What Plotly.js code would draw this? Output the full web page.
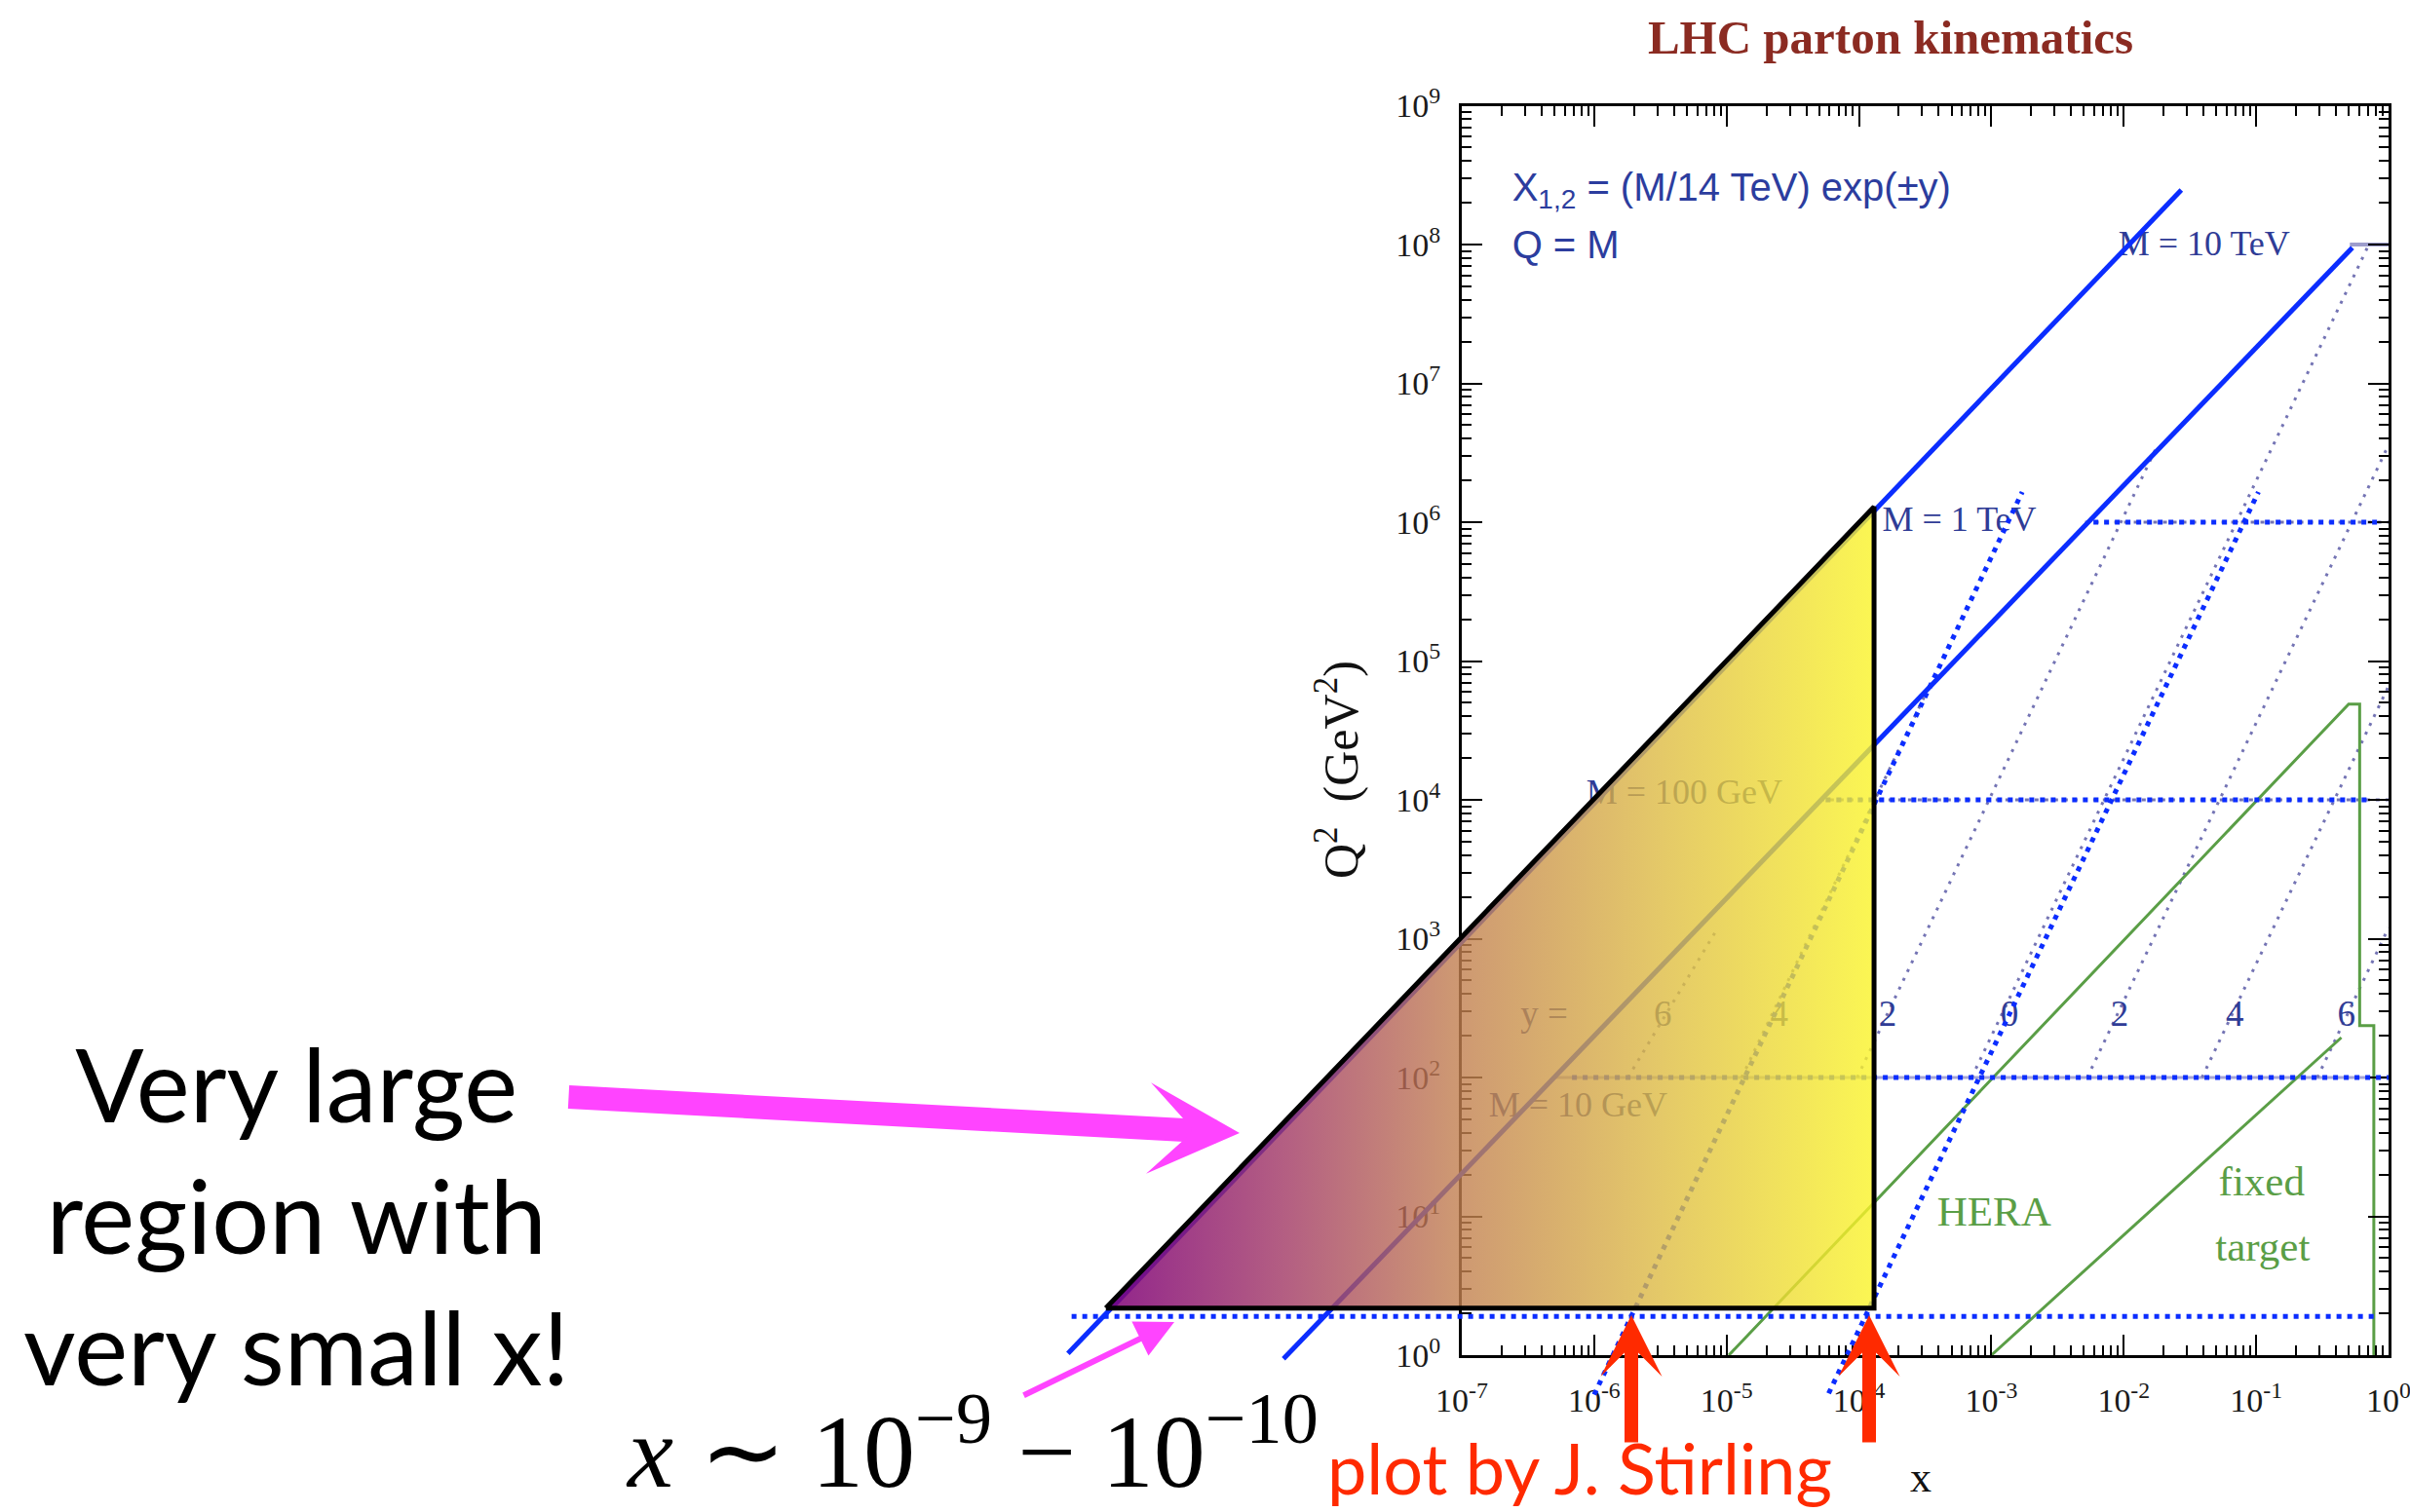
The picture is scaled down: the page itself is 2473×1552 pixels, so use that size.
<!DOCTYPE html>
<html>
<head>
<meta charset="utf-8">
<script src="https://cdn.plot.ly/plotly-3.0.1.min.js"></script>
<style>
  html, body { margin: 0; padding: 0; background: #ffffff; }
  #chart { width: 2473px; height: 1552px; }
</style>
</head>
<body>
<div id="chart"></div>
<script>
// ---------------- data ----------------
// axis decades
const xDecades = [1e-7, 1e-6, 1e-5, 1e-4, 1e-3, 1e-2, 1e-1, 1];
const xTickText = ['10<sup>-7</sup>', '10<sup>-6</sup>', '10<sup>-5</sup>', '10<sup>-4</sup>',
                   '10<sup>-3</sup>', '10<sup>-2</sup>', '10<sup>-1</sup>', '10<sup>0</sup>'];
const yDecades = [1, 1e1, 1e2, 1e3, 1e4, 1e5, 1e6, 1e7, 1e8, 1e9];
const yTickText = ['10<sup>0</sup>', '10<sup>1</sup>', '10<sup>2</sup>', '10<sup>3</sup>', '10<sup>4</sup>',
                   '10<sup>5</sup>', '10<sup>6</sup>', '10<sup>7</sup>', '10<sup>8</sup>', '10<sup>9</sup>'];

// Q^2 = M^2 lines
const massNames = ['M = 10 GeV', 'M = 100 GeV', 'M = 1 TeV', 'M = 10 TeV'];
const massQ2 = [1e2, 1e4, 1e6, 1e8];
const massXFrom = [5.1e-7, 5.1e-5, 5.1e-3, 0.51];
const massXTo = [1, 1, 1, 1];
const massLabelX = [1.6e-7, 8.7e-7, 1.5e-4, 9.1e-3];
const massLabelQ2 = [61, 1.08e4, 1.0e6, 9.7e7];

// fixed-rapidity lines
const rapidityNames = ['6', '4', '2', '0', '2', '4', '6'];
const rapXFrom = [1.8e-6, 1.3e-5, 9.7e-5, 7.1e-4, 5.3e-3, 3.9e-2, 0.29];
const rapQ2From = [100, 100, 100, 100, 100, 100, 100];
const rapXTo = [8.6e-6, 3.4e-4, 1.8e-2, 0.71, 1, 1, 1];
const rapQ2To = [1.2e3, 6.6e4, 3.6e6, 1.0e8, 3.6e6, 6.6e4, 1.2e3];
const rapLabelX = [3.3e-6, 2.5e-5, 1.65e-4, 1.37e-3, 9.3e-3, 6.9e-2, 0.48];
const rapLabelQ2 = [272, 272, 272, 272, 272, 272, 272];
const rapTitleX = [4.2e-7];
const rapTitleQ2 = [272];

// HERA and fixed-target reach
const heraX = [1.04e-5, 0.50, 0.605, 0.605, 0.774, 0.774];
const heraQ2 = [1, 4.9e4, 4.9e4, 236, 236, 1];
const fixedTargetX = [1.0e-3, 0.44];
const fixedTargetQ2 = [1, 194];

// solid kinematic reach lines
const reachLowX = [4.5e-9, 0.533];
const reachLowQ2 = [0.94, 9.5e7];
const reachHighX = [1.06e-10, 2.72e-2];
const reachHighQ2 = [1.03, 2.47e8];

// highlighted dotted guides
const guideQ2 = [1.9, 100, 1e4, 1e6];
const guideXFrom = [1.13e-10, 6.8e-7, 5.6e-5, 5.9e-3];
const guideXTo = [0.82, 1, 0.75, 0.90];
const guideY4X = [1.0e-6, 1.71e-3];
const guideY4Q2 = [0.52, 1.65e6];
const guideY0X = [5.9e-5, 0.104];
const guideY0Q2 = [0.53, 1.65e6];

// small-x region
const regionX = [2.05e-10, 1.30e-4, 1.30e-4, 2.05e-10];
const regionQ2 = [2.18, 1.29e6, 2.18, 2.18];

// ---------------- layout geometry ----------------
const W = 2473, H = 1552;
const FL = 1500, FR = 2451, FT = 108.5, FB = 1391;   // frame edges in px
const DX = (FR - FL) / 7, DY = (FB - FT) / 9;         // px per decade
const px = X => X / W;
const py = Y => 1 - Y / H;

function minorTicks(lo, hi) {
  const v = [];
  for (let d = lo; d < hi; d++) for (let k = 2; k <= 9; k++) v.push(k * Math.pow(10, d));
  return v;
}
function segments(xa, ya, xb, yb) {
  const x = [], y = [];
  xa.forEach((_, i) => { x.push(xa[i], xb[i], null); y.push(ya[i], yb[i], null); });
  return { x, y };
}

const NAVY = '#2f3c96';
const LAV = '#7474b4';
const BLUE = '#0b2dff';
const GREEN = '#5a9e46';
const serif = 'Liberation Serif, Times New Roman, serif';
const sans = 'Liberation Sans, Arial, sans-serif';
const slideFont = 'Lato, Open Sans, sans-serif';

const traces = [];

// original plot, drawn in the framed axes
massQ2.forEach((q, i) => {
  traces.push({
    type: 'scatter', mode: 'lines', x: [massXFrom[i], massXTo[i]], y: [q, q],
    line: i === 0 ? { color: '#a4a4d6', width: 3 }
         : i === 3 ? { color: '#9d9dcc', width: 4 }
         : { color: LAV, width: 3, dash: '4px,6px' },
    hoverinfo: 'skip'
  });
});
const rap = segments(rapXFrom, rapQ2From, rapXTo, rapQ2To);
traces.push({ type: 'scatter', mode: 'lines', x: rap.x, y: rap.y, connectgaps: false,
  line: { color: LAV, width: 3, dash: '3px,7px' }, hoverinfo: 'skip' });
traces.push({ type: 'scatter', mode: 'lines', x: heraX, y: heraQ2,
  line: { color: GREEN, width: 3 }, hoverinfo: 'skip' });
traces.push({ type: 'scatter', mode: 'lines', x: fixedTargetX, y: fixedTargetQ2,
  line: { color: GREEN, width: 3 }, hoverinfo: 'skip' });

// labels of the original plot
traces.push({ type: 'scatter', mode: 'text', x: massLabelX, y: massLabelQ2, text: massNames,
  textposition: 'middle right', textfont: { family: serif, size: 36, color: NAVY }, hoverinfo: 'skip' });
traces.push({ type: 'scatter', mode: 'text', x: rapLabelX, y: rapLabelQ2, text: rapidityNames,
  textposition: 'middle center', textfont: { family: serif, size: 37, color: NAVY }, hoverinfo: 'skip' });
traces.push({ type: 'scatter', mode: 'text', x: rapTitleX, y: rapTitleQ2, text: ['y ='],
  textposition: 'middle center', textfont: { family: serif, size: 37, color: NAVY }, hoverinfo: 'skip' });
traces.push({ type: 'scatter', mode: 'text', x: [1.05e-3, 0.11, 0.112], y: [10.2, 16.9, 5.7],
  text: ['HERA', 'fixed', 'target'], textposition: 'middle center',
  textfont: { family: serif, size: 43, color: GREEN }, hoverinfo: 'skip' });
traces.push({ type: 'scatter', mode: 'text', x: [2.4e-7, 2.4e-7], y: [2.43e8, 9.4e7],
  text: ['X<sub>1,2</sub> = (M/14 TeV) exp(±y)', 'Q = M'], textposition: 'middle right',
  textfont: { family: sans, size: 40, color: '#2c3d9e' }, hoverinfo: 'skip' });

// highlight layer on the full-page log axes
const hl = { xaxis: 'x2', yaxis: 'y2', hoverinfo: 'skip', type: 'scatter', mode: 'lines' };
traces.push(Object.assign({}, hl, { x: reachLowX, y: reachLowQ2, line: { color: BLUE, width: 5 } }));
traces.push(Object.assign({}, hl, { x: reachHighX, y: reachHighQ2, line: { color: BLUE, width: 5 } }));
guideQ2.forEach((q, i) => {
  traces.push(Object.assign({}, hl, { x: [guideXFrom[i], guideXTo[i]], y: [q, q],
    line: { color: BLUE, width: 5, dash: '5px,6px' } }));
});
traces.push(Object.assign({}, hl, { x: guideY4X, y: guideY4Q2, line: { color: BLUE, width: 5, dash: '5px,6px' } }));
traces.push(Object.assign({}, hl, { x: guideY0X, y: guideY0Q2, line: { color: BLUE, width: 5, dash: '5px,6px' } }));
traces.push(Object.assign({}, hl, {
  x: regionX, y: regionQ2, fill: 'toself',
  line: { color: '#000000', width: 5 },
  fillgradient: {
    type: 'horizontal',
    colorscale: [
      [0.0, 'rgba(127,0,121,0.86)'],
      [0.235, 'rgba(161,55,99,0.80)'],
      [0.447, 'rgba(192,124,80,0.80)'],
      [0.717, 'rgba(221,186,67,0.80)'],
      [1.0, 'rgba(250,244,40,0.80)']
    ]
  }
}));

const tickFont = { family: serif, size: 34, color: '#1a1a1a' };
const frameAxis = {
  type: 'log', showline: true, linewidth: 3, linecolor: '#000', mirror: 'ticks',
  ticks: 'inside', ticklen: 21, tickwidth: 2, tickcolor: '#000',
  tickmode: 'array', tickfont: tickFont, ticklabeloverflow: 'allow',
  showgrid: false, zeroline: false, fixedrange: true
};

const layout = {
  width: W, height: H,
  margin: { l: 0, r: 0, t: 0, b: 0 },
  paper_bgcolor: '#ffffff', plot_bgcolor: 'rgba(0,0,0,0)',
  showlegend: false,
  title: {
    text: '<b>LHC parton kinematics</b>',
    font: { family: serif, size: 49, color: '#8b2b22' },
    x: 1940 / W, xanchor: 'center', xref: 'paper',
    y: 1 - 38 / H, yanchor: 'middle', yref: 'container'
  },
  xaxis: Object.assign({}, frameAxis, {
    domain: [px(FL), px(FR)], range: [-7, 0], anchor: 'y',
    tickvals: xDecades, ticktext: xTickText, ticklabelstandoff: 14,
    minor: { ticks: 'inside', ticklen: 10, tickwidth: 2, tickcolor: '#000',
             tickmode: 'array', tickvals: minorTicks(-7, 0), showgrid: false }
  }),
  yaxis: Object.assign({}, frameAxis, {
    domain: [py(FB), py(FT)], range: [0, 9], anchor: 'x',
    tickvals: yDecades, ticktext: yTickText, ticklabelstandoff: 12,
    minor: { ticks: 'inside', ticklen: 10, tickwidth: 2, tickcolor: '#000',
             tickmode: 'array', tickvals: minorTicks(0, 9), showgrid: false }
  }),
  xaxis2: {
    type: 'log', domain: [0, 1], anchor: 'y2', visible: false, fixedrange: true,
    range: [-7 - FL / DX, -7 + (W - FL) / DX]
  },
  yaxis2: {
    type: 'log', domain: [0, 1], anchor: 'x2', visible: false, fixedrange: true,
    range: [-(H - FB) / DY, 9 + FT / DY]
  },
  annotations: [
    { text: 'Q<sup>2</sup>&nbsp;&nbsp;(GeV<sup>2</sup>)', textangle: -90,
      x: px(1372), y: py(790), xref: 'paper', yref: 'paper', xanchor: 'center', yanchor: 'middle',
      showarrow: false, font: { family: serif, size: 50, color: '#111' } },
    { text: 'x', x: px(1971), y: py(1516), xref: 'paper', yref: 'paper',
      xanchor: 'center', yanchor: 'middle', showarrow: false,
      font: { family: serif, size: 44, color: '#111' } },
    { text: 'Very large<br>region with<br>very small x!', x: px(304), y: py(1246),
      xref: 'paper', yref: 'paper', xanchor: 'center', yanchor: 'middle',
      showarrow: false, align: 'center',
      font: { family: slideFont, size: 104, color: '#000' } },
    { text: '<i>x</i> ∼ 10<sup>−9</sup> − 10<sup>−10</sup>', x: px(640), y: py(1551),
      xref: 'paper', yref: 'paper', xanchor: 'left', yanchor: 'bottom', showarrow: false,
      font: { family: serif, size: 106, color: '#000' } },
    { text: 'plot by J. Stirling', x: px(1360), y: py(1551),
      xref: 'paper', yref: 'paper', xanchor: 'left', yanchor: 'bottom', showarrow: false,
      font: { family: slideFont, size: 72, color: '#ff2a00' } },
    // arrows
    { text: '', x: px(1272), y: py(1163), xref: 'paper', yref: 'paper',
      ax: 582 - 1272, ay: 1126 - 1163, showarrow: true, arrowhead: 3, arrowsize: 0.65,
      arrowwidth: 24, arrowcolor: '#ff44ff', standoff: 0 },
    { text: '', x: px(1205), y: py(1357), xref: 'paper', yref: 'paper',
      ax: 1049 - 1205, ay: 1433 - 1357, showarrow: true, arrowhead: 2, arrowsize: 1.3,
      arrowwidth: 6, arrowcolor: '#ff44ff', standoff: 0 },
    { text: '', x: px(1674), y: py(1350), xref: 'paper', yref: 'paper',
      ax: 0, ay: 1482 - 1350, showarrow: true, arrowhead: 3, arrowsize: 0.75,
      arrowwidth: 14, arrowcolor: '#ff2a00', standoff: 0 },
    { text: '', x: px(1918), y: py(1350), xref: 'paper', yref: 'paper',
      ax: 0, ay: 1482 - 1350, showarrow: true, arrowhead: 3, arrowsize: 0.75,
      arrowwidth: 14, arrowcolor: '#ff2a00', standoff: 0 }
  ]
};

Plotly.newPlot('chart', traces, layout, { staticPlot: true });
</script>
</body>
</html>
